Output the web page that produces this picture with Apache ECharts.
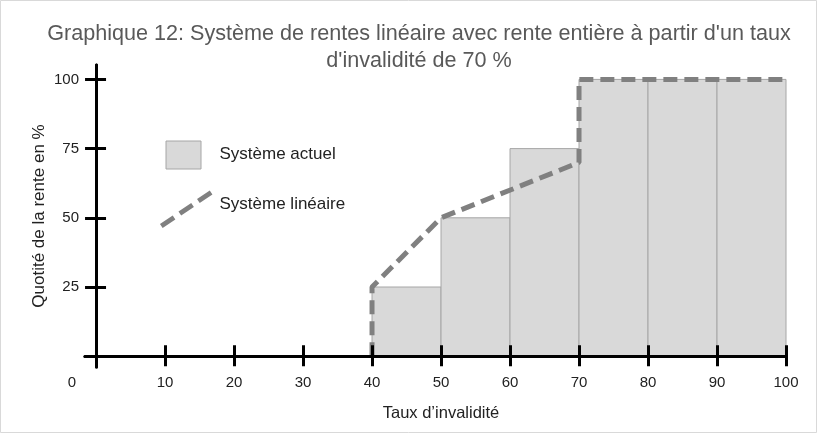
<!DOCTYPE html>
<html>
<head>
<meta charset="utf-8" />
<title></title>
<script src="https://cdn.jsdelivr.net/npm/echarts@6/dist/echarts.min.js"></script>
<style>
  *{ padding: 0; margin: 0; }
  #main{ width: 817px; height: 433px; }
</style>
</head>
<body>
<div id="main"></div>
<script type="text/javascript">
// données
var barStarts = [40, 50, 60, 70, 80, 90];
var barEnds = [50, 60, 70, 80, 90, 100];
var actuel = [25, 50, 75, 100, 100, 100];
var lineaireX = [40, 40, 50, 70, 70, 100];
var lineaireY = [0, 25, 50, 70, 100, 100];
var xTicks = [0, 10, 20, 30, 40, 50, 60, 70, 80, 90, 100];
var yTicks = [25, 50, 75, 100];

var barData = barStarts.map(function (s, i) { return [s, barEnds[i], actuel[i]]; });
var lineData = lineaireX.map(function (x, i) { return [x, lineaireY[i]]; });

var font = 'Liberation Sans';
var txt = '#222';

// icone de légende: trait oblique en tirets
function dashIcon(w, h, x0, y0, x1, y1, dash, gap, thick) {
  var dx = x1 - x0, dy = y1 - y0, len = Math.sqrt(dx * dx + dy * dy);
  var ux = dx / len, uy = dy / len, nx = -uy * thick / 2, ny = ux * thick / 2;
  var p = 'path://M0,0M' + w + ',' + h;
  for (var t = 0; t < len; t += dash + gap) {
    var e = Math.min(t + dash, len);
    var ax = x0 + ux * t, ay = y0 + uy * t, bx = x0 + ux * e, by = y0 + uy * e;
    p += 'M' + (ax + nx) + ',' + (ay + ny) + 'L' + (bx + nx) + ',' + (by + ny) +
         'L' + (bx - nx) + ',' + (by - ny) + 'L' + (ax - nx) + ',' + (ay - ny) + 'Z';
  }
  return p;
}

var myChart = echarts.init(document.getElementById('main'));

var axisLine = { onZero: true, onZeroAxisIndex: 0, lineStyle: { color: '#000', width: 3 } };
var tickStyle = { color: '#000', width: 3 };

var option = {
  backgroundColor: '#fff',
  animation: false,
  title: {
    text: "Graphique 12: Système de rentes linéaire avec rente entière à partir d'un taux\nd'invalidité de 70 %",
    left: 414,
    top: 16,
    textAlign: 'center',
    textStyle: { fontFamily: font, fontSize: 21.6, fontWeight: 'normal', color: '#595959', lineHeight: 27 }
  },
  legend: {
    orient: 'vertical',
    left: 159,
    top: 130,
    padding: 0,
    itemWidth: 55,
    itemHeight: 48,
    itemGap: 1,
    selectedMode: false,
    textStyle: { fontFamily: font, fontSize: 17, color: txt },
    data: [
      { name: 'Système actuel', icon: 'path://M0,0M55,48M6.5,10.5H41.5V38.5H6.5Z', itemStyle: { borderWidth: 1 } },
      { name: 'Système linéaire', icon: dashIcon(55, 48, 0, 48, 52, 13, 16, 7.3, 5), itemStyle: { borderWidth: 0 } }
    ]
  },
  graphic: [{
    type: 'rect', silent: true, z: -1,
    shape: { x: 0.5, y: 0.5, width: 816, height: 432 },
    style: { fill: 'none', stroke: '#d9d9d9', lineWidth: 1 }
  }],
  grid: { left: 85, right: 31, top: 65, bottom: 66, containLabel: false },
  xAxis: [{
    type: 'value', min: -1.6, max: 100, position: 'bottom', z: 5,
    name: 'Taux d’invalidité', nameLocation: 'middle', nameGap: 38,
    nameTextStyle: { fontFamily: font, fontSize: 16.5, color: txt, padding: [0, 0, 0, 11] },
    axisLine: axisLine,
    axisTick: { show: true, length: 10, customValues: xTicks.slice(1), lineStyle: tickStyle },
    axisLabel: {
      customValues: xTicks, margin: 8, fontFamily: font, fontSize: 15, color: txt,
      formatter: function (v) { return v === 0 ? '{z|0}' : String(v); },
      rich: { z: { padding: [0, 48, 0, 0], fontFamily: font, fontSize: 15, color: txt } }
    },
    splitLine: { show: false }
  }, {
    type: 'value', min: -1.6, max: 100, position: 'bottom', z: 5,
    axisLine: axisLine,
    axisTick: { show: true, inside: true, length: 11, customValues: xTicks.slice(1), lineStyle: tickStyle },
    axisLabel: { show: false },
    splitLine: { show: false }
  }],
  yAxis: [{
    type: 'value', min: -3.9, max: 105.2, position: 'left', z: 5,
    name: 'Quotité de la rente en %', nameLocation: 'middle', nameGap: 37, nameRotate: 90,
    nameMoveOverlap: false,
    nameTextStyle: { fontFamily: font, fontSize: 17, color: txt },
    axisLine: axisLine,
    axisTick: { show: true, length: 11, customValues: [0].concat(yTicks), lineStyle: tickStyle },
    axisLabel: { customValues: yTicks, margin: 6, fontFamily: font, fontSize: 15, color: txt },
    splitLine: { show: false }
  }, {
    type: 'value', min: -3.9, max: 105.2, position: 'left', z: 5,
    axisLine: axisLine,
    axisTick: { show: true, inside: true, length: 10, customValues: yTicks, lineStyle: tickStyle },
    axisLabel: { show: false },
    splitLine: { show: false }
  }],
  series: [{
    name: 'Système actuel',
    type: 'custom',
    xAxisIndex: 0, yAxisIndex: 0,
    itemStyle: { color: '#d9d9d9', borderColor: '#a6a6a6', borderWidth: 1 },
    encode: { x: [0, 1], y: 2 },
    renderItem: function (params, api) {
      var p0 = api.coord([api.value(0), api.value(2)]);
      var p1 = api.coord([api.value(1), 0]);
      return {
        type: 'rect',
        shape: { x: p0[0], y: p0[1], width: p1[0] - p0[0], height: p1[1] - p0[1] },
        style: api.style()
      };
    },
    data: barData
  }, {
    name: 'Système linéaire',
    type: 'line',
    xAxisIndex: 0, yAxisIndex: 0,
    showSymbol: false,
    color: '#808080',
    lineStyle: { color: '#808080', width: 5, type: [14, 7], cap: 'butt' },
    data: lineData,
    z: 3
  }]
};

myChart.setOption(option);
</script>
</body>
</html>
